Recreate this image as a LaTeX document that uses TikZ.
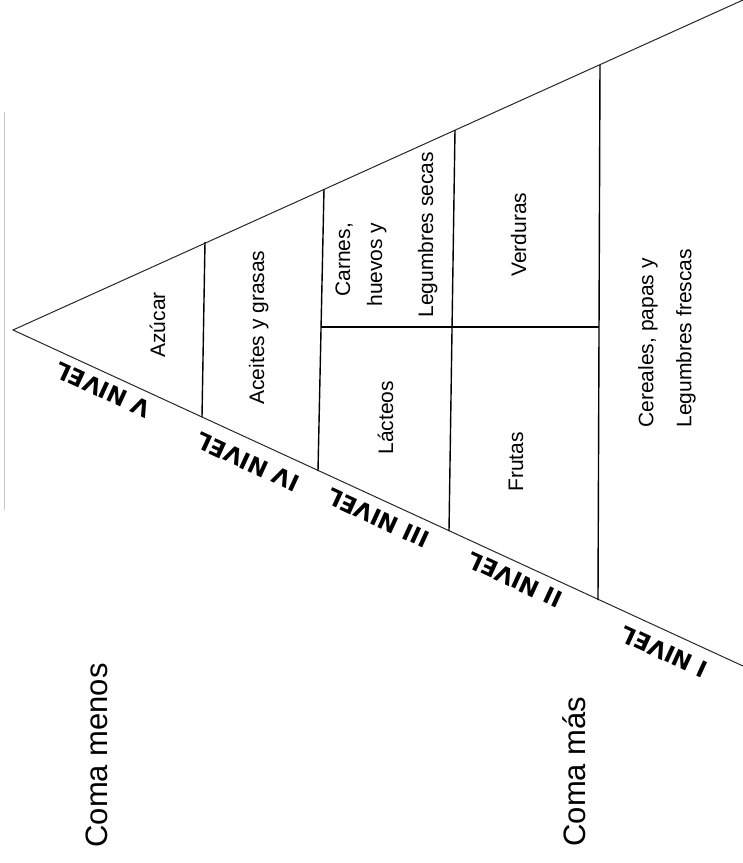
\documentclass[tikz,border=0pt]{standalone}
\usepackage{fontspec}
\setmainfont{Liberation Sans}
\newfontfamily\handfont{DejaVu Sans}
\usetikzlibrary{positioning,calc}

\begin{document}
\begin{tikzpicture}[
  x=0.5pt, y=-0.5pt,
  side/.style={draw=black!85, line width=0.5pt},
  divline/.style={draw=black, line width=0.7pt},
  scanline/.style={draw=black!22, line width=0.4pt},
  food/.style={rotate=90, anchor=base west, inner sep=0pt,
    font=\fontsize{10.5}{19}\selectfont},
  lvl/.style={rotate=155.3, inner sep=0pt,
    font=\handfont\bfseries\fontsize{11.5}{13}\selectfont},
  advice/.style={rotate=90, anchor=base west, inner sep=0pt,
    font=\fontsize{15.5}{18}\selectfont}
]
\useasboundingbox (0,0) rectangle (743,863);

\coordinate (scantop) at (4,112);
\coordinate (scanbot) at (4,510);
\draw[scanline] (scantop) -- (scanbot);

% pyramid sides
\coordinate (apex) at (13,330);
\coordinate (topend) at (743,0);
\coordinate (botend) at (743,666);
\draw[side] (topend) -- (apex) -- (botend);

% level borders
\coordinate (t1) at (205,242); \coordinate (b1) at (202,417);
\coordinate (t2) at (324,189); \coordinate (b2) at (318,471);
\coordinate (t3) at (455,130); \coordinate (b3) at (449,531);
\coordinate (t4) at (600,65);  \coordinate (b4) at (598,600);
\coordinate (m1) at (321,327); \coordinate (m2) at (599,327);
\draw[divline] (t1) -- (b1);
\draw[divline] (t2) -- (b2);
\draw[divline] (t3) -- (b3);
\draw[divline] (t4) -- (b4);
\draw[divline] (m1) -- (m2);

\node[food] (azucar) at (165,358) {Azúcar};
\node[food] (aceites) at (264,405) {Aceites y grasas};
\node[food] (carnes) at (350,297) {Carnes,};
\node[food] (huevos) at (382,307) {huevos y};
\node[food] (legsecas) at (433,318) {Legumbres secas};
\node[food] (lacteos) at (393,455) {Lácteos};
\node[food] (verduras) at (526,277) {Verduras};
\node[food] (frutas) at (523,492) {Frutas};
\node[food, anchor=west, align=left] (cereales) at (667,428)
  {Cereales, papas y\\Legumbres frescas};

\node[lvl] (lvlV) at (103,390) {V NIVEL};
\node[lvl] (lvlIV) at (248,462) {IV NIVEL};
\node[lvl] (lvlIII) at (378,518) {III NIVEL};
\node[lvl] (lvlII) at (515,580) {II NIVEL};
\node[lvl] (lvlI) at (664,652) {I NIVEL};

\node[advice] (menos) at (107,848) {Coma menos};
\node[advice] (mas) at (585,847) {Coma más};

\end{tikzpicture}
\end{document}
